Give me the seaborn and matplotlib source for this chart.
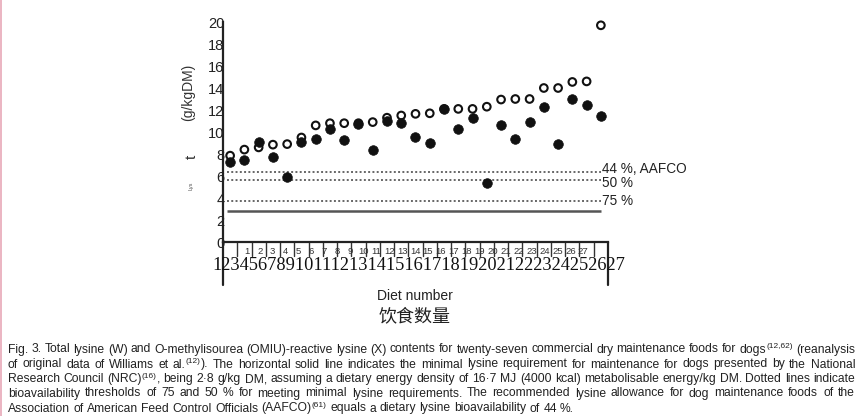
import matplotlib
matplotlib.use("Agg")
import matplotlib.pyplot as plt
import seaborn as sns
import pandas as pd
import numpy as np

# ---- data ----
diets = list(range(1, 28))
total_lysine = [7.85, 8.4, 8.6, 8.85, 8.9, 9.5, 10.6, 10.8, 10.8, 10.8, 10.9, 11.3, 11.5, 11.65,
                11.7, 12.1, 12.1, 12.1, 12.3, 12.95, 13.0, 13.0, 14.0, 14.0, 14.55, 14.6, 19.7]
omiu_lysine = [7.27, 7.5, 9.1, 7.75, 5.95, 9.1, 9.4, 10.25, 9.27, 10.75, 8.36, 11.0, 10.8, 9.57,
               8.97, 12.1, 10.3, 11.3, 5.36, 10.6, 9.4, 10.9, 12.3, 8.9, 13.0, 12.5, 11.5]
threshold_labels = ["44 %, AAFCO", "50 %", "75 %"]
threshold_values = [6.36, 5.6, 3.73]
nrc_requirement = 2.8
y_ticks = [0, 2, 4, 6, 8, 10, 12, 14, 16, 18, 20]
small_labels = [str(d) for d in diets]
big_label_row = "".join(str(d) for d in diets)

# words with {superscript} parts
caption_lines = [
    "Fig. 3. Total lysine (W) and O-methylisourea (OMIU)-reactive lysine (X) contents for twenty-seven commercial dry maintenance foods for dogs{(12,62)} (reanalysis",
    "of original data of Williams et al.{(12)}). The horizontal solid line indicates the minimal lysine requirement for maintenance for dogs presented by the National",
    "Research Council (NRC){(16)}, being 2·8 g/kg DM, assuming a dietary energy density of 16·7 MJ (4000 kcal) metabolisable energy/kg DM. Dotted lines indicate",
    "bioavailability thresholds of 75 and 50 % for meeting minimal lysine requirements. The recommended lysine allowance for dog maintenance foods of the",
    "Association of American Feed Control Officials (AAFCO){(61)} equals a dietary lysine bioavailability of 44 %.",
]

df_total = pd.DataFrame({"diet": diets, "value": total_lysine})
df_omiu = pd.DataFrame({"diet": diets, "value": omiu_lysine})

sns.set_style("white")
plt.rcParams["font.family"] = ["Liberation Sans", "DejaVu Sans"]

W, H = 862, 416
fig = plt.figure(figsize=(W / 100, H / 100), dpi=100)
fig.patch.set_facecolor("white")
ax = fig.add_axes([223 / W, (H - 242) / H, (608 - 223) / W, 220 / H])
ax.set_facecolor("none")

sns.scatterplot(data=df_total, x="diet", y="value", ax=ax, s=30, marker="o",
                facecolors="none", edgecolor="#111111", linewidth=1.5, zorder=3, clip_on=False)
sns.scatterplot(data=df_omiu, x="diet", y="value", ax=ax, s=48, marker="o",
                color="#111111", edgecolor="#111111", linewidth=0.5, zorder=4, clip_on=False)

x_start, x_end = diets[0] - 0.2, diets[-1]
label_dy = [0.3, -0.25, 0.0]
for v, lab, dy in zip(threshold_values, threshold_labels, label_dy):
    ax.hlines(v, x_start, x_end, colors="#666666", linestyles=(0, (1, 1.2)), linewidth=1.4, zorder=2)
    ax.text(x_end + 0.1, v + dy, lab, fontsize=9.8, va="center", ha="left", color="#222222")
ax.hlines(nrc_requirement, x_start, x_end, colors="#555555", linestyles="-", linewidth=1.8, zorder=2)

ax.set_xlim(diets[0] - 0.5, diets[-1] + 0.5)
ax.set_ylim(0, 20)
ax.set_yticks(y_ticks)
ax.set_yticklabels([str(t) for t in y_ticks], fontsize=10.5, color="#222222")
ax.tick_params(axis="y", direction="in", length=4, width=1.2, pad=-1, colors="#222222")
ax.set_xticks([])
ax.set_xlabel("")
ax.set_ylabel("")
for sp in ["top", "right"]:
    ax.spines[sp].set_visible(False)
for sp in ["left", "bottom"]:
    ax.spines[sp].set_linewidth(1.6)
    ax.spines[sp].set_color("#222222")

# extended vertical lines below axis and cell boundaries
ybot = -3.9
ax.plot([diets[0] - 0.5, diets[0] - 0.5], [0, ybot], color="#222222", lw=1.6, clip_on=False)
ax.plot([diets[-1] + 0.5, diets[-1] + 0.5], [0, ybot], color="#222222", lw=1.6, clip_on=False)
for d in diets[:-1]:
    ax.plot([d + 0.5, d + 0.5], [0, -1.3], color="#333333", lw=1.0, clip_on=False)
# small diet labels (drawn slightly compressed, as in the source figure)
lab_pos = np.linspace(diets[1] + 0.17, diets[-2] - 0.23, len(small_labels))
for xp, lab in zip(lab_pos, small_labels):
    ax.text(xp, -0.85, lab, fontsize=6.8, ha="center", va="center", color="#333333", clip_on=False)

# big serif digits row
fig.text(212 / W, 1 - 265 / H, big_label_row, fontsize=13.2, family=["Liberation Serif", "DejaVu Serif"],
         ha="left", va="center", color="#111111")

fig.text(415 / W, 1 - 296 / H, "Diet number", fontsize=10, ha="center", va="center", color="#222222")
fig.text(415 / W, 1 - 316 / H, "饮食数量", fontsize=13, ha="center", va="center",
         family=["Noto Sans CJK SC", "DejaVu Sans"], color="#222222")

# y-axis label fragments
fig.text(188 / W, 1 - 92 / H, "(g/kgDM)", fontsize=10, rotation=90, ha="center", va="center", color="#333333")
fig.text(192 / W, 1 - 157 / H, "t", fontsize=11, rotation=90, ha="center", va="center", color="#333333")
fig.text(191 / W, 1 - 186 / H, "Lys", fontsize=4, rotation=90, ha="center", va="center", color="#555555")

# caption, justified like the source
renderer = fig.canvas.get_renderer()
cap_fs, sup_fs = 8.7, 6.0
cap_family = ["Liberation Sans", "DejaVu Sans"]


def text_w(s, fs):
    if not s:
        return 0.0
    t = fig.text(0, 0, s, fontsize=fs, family=cap_family)
    w = t.get_window_extent(renderer).width
    t.remove()
    return w


def split_word(word):
    if "{" in word:
        base, rest = word.split("{", 1)
        sup, after = rest.split("}", 1)
        return base, sup, after
    return word, "", ""


left_px, right_px = 8, 855
baselines = [352.5, 367.5, 382, 396.5, 411.5]
space_w = text_w("a a", cap_fs) - text_w("aa", cap_fs)
for li, (line, yb) in enumerate(zip(caption_lines, baselines)):
    words = [split_word(w) for w in line.split(" ")]
    widths = [text_w(b, cap_fs) + text_w(s, sup_fs) + text_w(a, cap_fs) for b, s, a in words]
    if li < len(caption_lines) - 1:
        gap = (right_px - left_px - sum(widths)) / (len(words) - 1)
    else:
        gap = space_w
    x = left_px
    yfig = 1 - yb / H
    ysup = 1 - (yb - 4.5) / H
    for (b, s, a), w in zip(words, widths):
        xx = x
        if b:
            fig.text(xx / W, yfig, b, fontsize=cap_fs, family=cap_family, ha="left", va="baseline", color="#222222")
            xx += text_w(b, cap_fs)
        if s:
            fig.text(xx / W, ysup, s, fontsize=sup_fs, family=cap_family, ha="left", va="baseline", color="#222222")
            xx += text_w(s, sup_fs)
        if a:
            fig.text(xx / W, yfig, a, fontsize=cap_fs, family=cap_family, ha="left", va="baseline", color="#222222")
        x += w + gap

# thin pink page border on the left
fig.add_artist(plt.Line2D([1.5 / W, 1.5 / W], [0, 1], color="#e8a8b8", lw=1.2))

fig.savefig("out.png", dpi=100)
